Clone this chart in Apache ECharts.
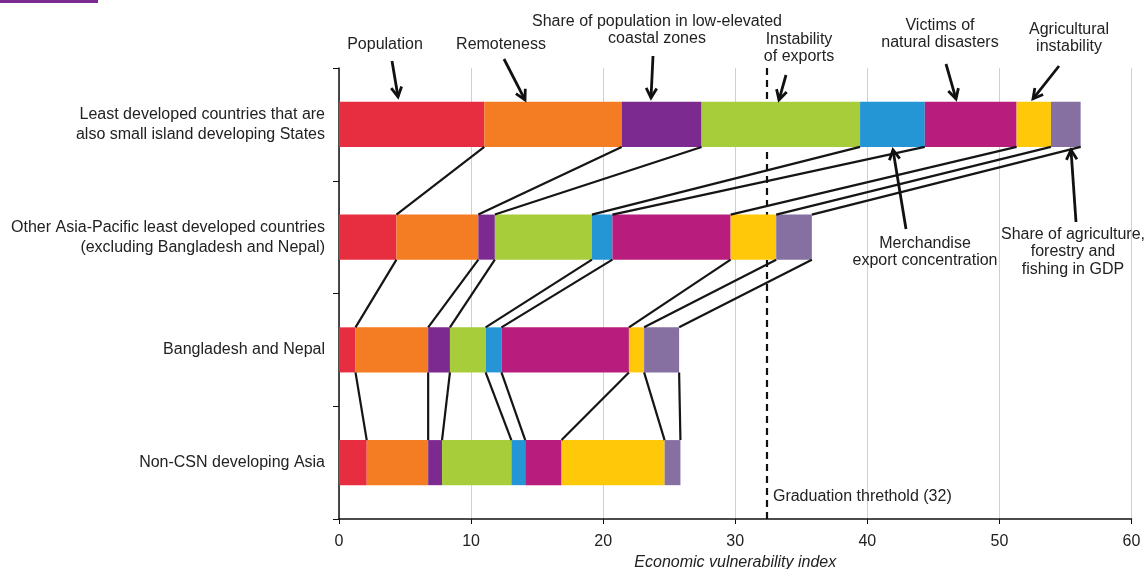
<!DOCTYPE html>
<html>
<head>
<meta charset="utf-8">
<script src="https://cdn.jsdelivr.net/npm/echarts@6/dist/echarts.min.js"></script>
<style>
html,body{margin:0;padding:0;background:#fff;}
#chart{width:1145px;height:569px;}
</style>
</head>
<body>
<div id="chart"></div>
<script>
// ---- data ----
const categories = [
  'Least developed countries that are\nalso small island developing States',
  'Other Asia-Pacific least developed countries\n(excluding Bangladesh and Nepal)',
  'Bangladesh and Nepal',
  'Non-CSN developing Asia'
];
const componentNames = [
  'Population', 'Remoteness', 'Share of population in low-elevated coastal zones',
  'Instability of exports', 'Merchandise export concentration', 'Victims of natural disasters',
  'Agricultural instability', 'Share of agriculture, forestry and fishing in GDP'
];
const colors = ['#E62E40', '#F47C22', '#7C2A8F', '#A7CD3A', '#2496D6', '#B81C7C', '#FFC90A', '#8670A2'];
const population      = [11.0, 4.35, 1.25, 2.1];
const remoteness      = [10.4, 6.2, 5.5, 4.65];
const coastalZones    = [6.05, 1.25, 1.65, 1.05];
const exportInstab    = [12.0, 7.35, 2.7, 5.25];
const merchConc       = [4.9, 1.55, 1.2, 1.05];
const disasterVictims = [6.95, 8.95, 9.65, 2.75];
const agriInstab      = [2.6, 3.45, 1.15, 7.8];
const agriShare       = [2.25, 2.7, 2.65, 1.2];
const xTicks = [0, 10, 20, 30, 40, 50, 60];
const threshold = 32.4;
const thresholdLabel = 'Graduation threthold (32)';

const seriesValues = [population, remoteness, coastalZones, exportInstab, merchConc, disasterVictims, agriInstab, agriShare];

// ---- build ----
const barFrac = 0.4;
const barSeries = seriesValues.map((vals, k) => ({
  type: 'bar', name: componentNames[k], stack: 'evi', data: vals,
  barWidth: (barFrac * 100) + '%', z: 3,
  itemStyle: { color: colors[k] }, emphasis: { disabled: true }, silent: true
}));

// cumulative boundaries for connector lines
const cum = categories.map((c, i) => {
  let s = 0; return seriesValues.map(v => (s += v[i]));
});
const connectors = [];
for (let i = 0; i < categories.length - 1; i++) {
  for (let k = 0; k < seriesValues.length; k++) {
    connectors.push([cum[i][k], i, cum[i + 1][k], i + 1]);
  }
}

const font = 'Liberation Sans, Arial, sans-serif';

const option = {
  animation: false,
  textStyle: { fontFamily: font },
  grid: { left: 339, right: 13.5, top: 68, bottom: 50, outerBoundsMode: 'none', containLabel: false },
  xAxis: {
    type: 'value', min: 0, max: 60, interval: 10,
    axisLine: { show: true, lineStyle: { color: '#111', width: 1.5 } },
    axisTick: { show: true, length: 5, lineStyle: { color: '#111' } },
    axisLabel: { fontSize: 16, color: '#222', margin: 15, fontFamily: font,
      formatter: v => xTicks.includes(v) ? String(v) : '' },
    splitLine: { show: true, lineStyle: { color: '#d0d0d0', width: 1 } },
    name: 'Economic vulnerability index', nameLocation: 'middle', nameGap: 34,
    nameTextStyle: { fontStyle: 'italic', fontSize: 16, color: '#222', fontFamily: font }
  },
  yAxis: {
    type: 'category', data: categories, inverse: true,
    axisLine: { show: true, lineStyle: { color: '#111', width: 1.5 } },
    axisTick: { show: true, length: 6, lineStyle: { color: '#111' } },
    axisLabel: { fontSize: 16, color: '#222', margin: 14, align: 'right', lineHeight: 20, fontFamily: font },
    splitLine: { show: false }
  },
  series: [
    {
      type: 'line', data: [], z: 1, silent: true,
      markLine: {
        silent: true, symbol: ['none', 'none'], z: 1,
        lineStyle: { color: '#111', width: 2.2, type: [7, 5] },
        label: { show: false },
        data: [{ xAxis: threshold }]
      }
    },
    ...barSeries,
    {
      type: 'custom', z: 4, silent: true,
      data: connectors,
      encode: { x: [0, 2], y: [1, 3] },
      renderItem: function (params, api) {
        const p1 = api.coord([api.value(0), api.value(1)]);
        const p2 = api.coord([api.value(2), api.value(3)]);
        const band = api.size([0, 1])[1];
        const half = band * barFrac / 2;
        return {
          type: 'line',
          shape: { x1: p1[0], y1: p1[1] + half, x2: p2[0], y2: p2[1] - half },
          style: { stroke: '#151515', lineWidth: 2.2 }
        };
      }
    }
  ]
};

const chart = echarts.init(document.getElementById('chart'));
chart.setOption(option);

// ---- annotations (layout only) ----
function arrow(x1, y1, x2, y2) {
  const ang = Math.atan2(y2 - y1, x2 - x1);
  const L = 11, a = 0.5;
  const h1 = [x2 - L * Math.cos(ang - a), y2 - L * Math.sin(ang - a)];
  const h2 = [x2 - L * Math.cos(ang + a), y2 - L * Math.sin(ang + a)];
  return [
    { type: 'line', shape: { x1, y1, x2, y2 }, style: { stroke: '#111', lineWidth: 2.8 }, silent: true, z: 10 },
    { type: 'polyline', shape: { points: [h1, [x2, y2], h2] }, style: { stroke: '#111', lineWidth: 2.8, fill: null }, silent: true, z: 10 }
  ];
}
function label(text, x, y, align) {
  return { type: 'text', x, y, silent: true, z: 10,
    style: { text, fill: '#222', font: '16px ' + font, align: align || 'center', verticalAlign: 'middle', lineHeight: 17.5 } };
}
const xp = v => chart.convertToPixel({ xAxisIndex: 0 }, v);
const yCenter = i => chart.convertToPixel({ yAxisIndex: 0 }, i);
const bandH = Math.abs(yCenter(1) - yCenter(0));
const topEdge = yCenter(0) - bandH * barFrac / 2;
const botEdge = yCenter(0) + bandH * barFrac / 2;

const graphics = [
  { type: 'rect', shape: { x: 0, y: 0, width: 98, height: 3 }, style: { fill: '#7C2A8F' }, silent: true },
  label('Population', 385, 45),
  ...arrow(392, 61, 398, topEdge - 5),
  label('Remoteness', 501, 45),
  ...arrow(504, 59, 525, topEdge - 2),
  label('Share of population in low-elevated\ncoastal zones', 657, 30),
  ...arrow(653, 56, 651, topEdge - 4),
  label('Instability\nof exports', 799, 48),
  ...arrow(786, 75, 779, topEdge - 2),
  label('Victims of\nnatural disasters', 940, 34),
  ...arrow(946, 64, 956, topEdge - 3),
  label('Agricultural\ninstability', 1069, 38),
  ...arrow(1059, 66, 1033, topEdge - 3),
  label('Merchandise\nexport concentration', 925, 252),
  ...arrow(906, 229, 893, botEdge + 3),
  label('Share of agriculture,\nforestry and\nfishing in GDP', 1073, 252),
  ...arrow(1076, 222, 1071, botEdge + 3),
  label(thresholdLabel, xp(threshold) + 6, 497, 'left')
];
chart.setOption({ graphic: { elements: graphics } });
</script>
</body>
</html>
